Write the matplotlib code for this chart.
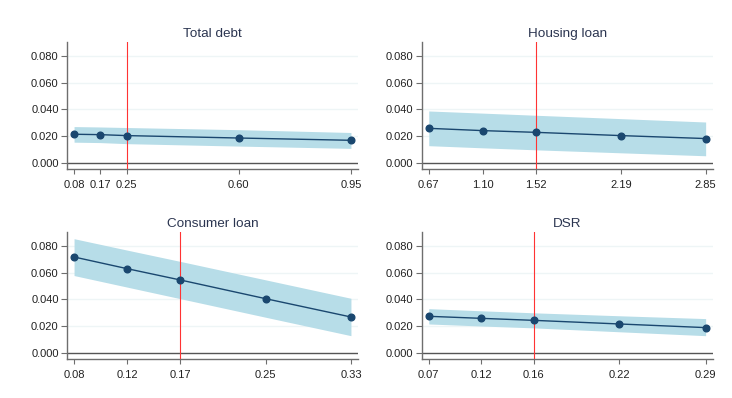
import matplotlib.pyplot as plt
import numpy as np

plt.rcParams['font.family'] = ['Liberation Sans', 'DejaVu Sans']

# marginal effects at the 10/25/50/75/90th percentiles, with 95% CI
titles = ['Total debt', 'Housing loan', 'Consumer loan', 'DSR']

x_td = [0.08, 0.162, 0.245, 0.597, 0.95]
y_td = [0.0216, 0.0213, 0.0206, 0.0188, 0.0171]
lo_td = [0.0157, 0.0154, 0.0146, 0.0128, 0.0111]
hi_td = [0.0273, 0.0270, 0.0266, 0.0250, 0.0229]
lab_td = ['0.08', '0.17', '0.25', '0.60', '0.95']

x_hl = [0.67, 1.095, 1.517, 2.183, 2.85]
y_hl = [0.0260, 0.0243, 0.0230, 0.0206, 0.0184]
lo_hl = [0.0131, 0.0115, 0.0100, 0.0078, 0.0056]
hi_hl = [0.0389, 0.0373, 0.0357, 0.0332, 0.0307]
lab_hl = ['0.67', '1.10', '1.52', '2.19', '2.85']

x_cl = [0.08, 0.128, 0.176, 0.253, 0.33]
y_cl = [0.0716, 0.0629, 0.0545, 0.0406, 0.0270]
lo_cl = [0.0578, 0.0492, 0.0406, 0.0268, 0.0131]
hi_cl = [0.0852, 0.0767, 0.0683, 0.0546, 0.0409]
lab_cl = ['0.08', '0.12', '0.17', '0.25', '0.33']

x_dsr = [0.07, 0.1115, 0.1534, 0.2215, 0.29]
y_dsr = [0.0275, 0.0260, 0.0245, 0.0218, 0.0191]
lo_dsr = [0.0218, 0.0203, 0.0189, 0.0160, 0.0131]
hi_dsr = [0.0332, 0.0316, 0.0301, 0.0279, 0.0258]
lab_dsr = ['0.07', '0.12', '0.16', '0.22', '0.29']

panels = [
    (x_td, y_td, lo_td, hi_td, lab_td),
    (x_hl, y_hl, lo_hl, hi_hl, lab_hl),
    (x_cl, y_cl, lo_cl, hi_cl, lab_cl),
    (x_dsr, y_dsr, lo_dsr, hi_dsr, lab_dsr),
]

W, H = 732, 398
fig = plt.figure(figsize=(W / 100, H / 100), dpi=100)

# axes boxes in pixels: left, top, right, bottom
boxes = [
    (67, 41.7, 358, 169.3),
    (421.7, 41.7, 712.7, 169.3),
    (67, 231.7, 358, 359.3),
    (421.7, 231.7, 712.7, 359.3),
]

band = '#b7dde8'
navy = '#1a476f'
axis_grey = '#6e6e6e'

for (x, y, lo, hi, labs), title, (l, t, r, b) in zip(panels, titles, boxes):
    ax = fig.add_axes([l / W, 1 - b / H, (r - l) / W, (b - t) / H])
    x = np.array(x)

    for g in [0.02, 0.04, 0.06, 0.08]:
        ax.axhline(g, color='#eef5f6', lw=1, zorder=0)
    ax.axhline(0, color='#555555', lw=1, zorder=1)

    ax.fill_between(x, lo, hi, color=band, lw=0, zorder=2)
    ax.plot(x, y, color=navy, lw=1.0, marker='o', ms=4.8, zorder=4)
    ax.axvline(x[2], color='#ff3333', lw=0.8, zorder=3)

    m = 0.0255 * (x[-1] - x[0])
    ax.set_xlim(x[0] - m, x[-1] + m)
    ax.set_ylim(-0.00446, 0.0904)
    ax.set_yticks([0, 0.02, 0.04, 0.06, 0.08])
    ax.set_yticklabels(['%.3f' % v for v in [0, 0.02, 0.04, 0.06, 0.08]])
    ax.set_xticks(x)
    ax.set_xticklabels(labs)

    ax.spines['top'].set_visible(False)
    ax.spines['right'].set_visible(False)
    for s in ['left', 'bottom']:
        ax.spines[s].set_color(axis_grey)
        ax.spines[s].set_linewidth(1)
    ax.tick_params(axis='y', length=4.5, width=0.8, color=axis_grey, pad=1.5,
                   labelsize=8, labelcolor='#222222')
    ax.tick_params(axis='x', length=3.5, width=0.8, color=axis_grey, pad=4,
                   labelsize=8, labelcolor='#222222')
    ax.set_facecolor('white')
    ax.set_title(title, fontsize=9.7, color='#2b3550', pad=3.5)

fig.savefig('out.png', dpi=100, facecolor='white')
